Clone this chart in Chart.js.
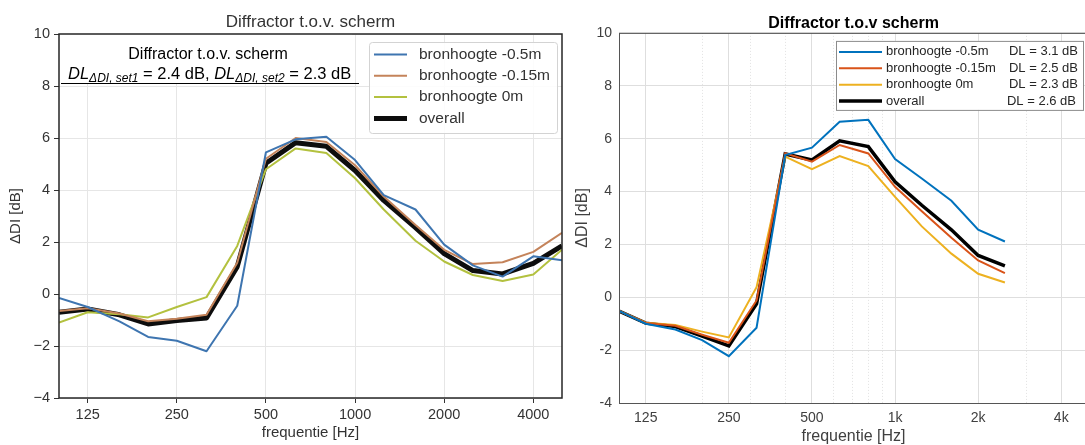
<!DOCTYPE html>
<html><head><meta charset="utf-8">
<script src="https://cdn.jsdelivr.net/npm/chart.js@4.4.1/dist/chart.umd.min.js"></script>
<style>
html,body{margin:0;padding:0;background:#fff;overflow:hidden;width:1085px;height:445px;position:relative;}
#cL{position:absolute;left:0;top:0;}
#cR{position:absolute;left:570px;top:0;}
</style></head><body>
<canvas id="cL" width="570" height="445"></canvas>
<canvas id="cR" width="525" height="452"></canvas>
<script>
// ---------- data: left chart ----------
const freqL = [100,125,160,200,250,315,400,500,630,800,1000,1250,1600,2000,2500,3150,4000,5000];
const blueL   = [-0.15,-0.5,-1.05,-1.65,-1.8,-2.2,-0.45,5.45,5.95,6.05,5.15,3.8,3.25,1.9,1.1,0.67,1.45,1.3];
const orangeL = [-0.65,-0.55,-0.75,-1.05,-0.95,-0.8,1.2,5.2,6.0,5.85,4.95,3.75,2.65,1.7,1.15,1.22,1.62,2.35];
const greenL  = [-1.1,-0.7,-0.78,-0.9,-0.5,-0.12,1.85,4.8,5.6,5.42,4.45,3.25,2.05,1.25,0.73,0.5,0.75,1.7];
const blackL  = [-0.7,-0.58,-0.8,-1.15,-1.02,-0.92,1.05,5.03,5.82,5.68,4.75,3.6,2.55,1.55,0.9,0.77,1.18,1.85];
const seriesNamesL = ['bronhoogte -0.5m','bronhoogte -0.15m','bronhoogte 0m','overall'];
const xTickValsL = [125,250,500,1000,2000,4000];
const xTickLabsL = ['125','250','500','1000','2000','4000'];
const yTickValsL = [-4,-2,0,2,4,6,8,10];
const yTickLabsL = ['\u22124','\u22122','0','2','4','6','8','10'];
const dlSet = ['2.4','2.3'];

// ---------- data: right chart ----------
const freqR = [100,125,160,200,250,315,400,500,630,800,1000,1250,1600,2000,2500];
const blueR   = [-0.52,-1.0,-1.22,-1.62,-2.23,-1.15,5.38,5.66,6.64,6.71,5.23,4.49,3.65,2.56,2.11];
const orangeR = [-0.52,-0.97,-1.08,-1.42,-1.72,-0.12,5.45,5.13,5.76,5.44,4.18,3.25,2.25,1.39,0.91];
const yellowR = [-0.52,-0.96,-1.05,-1.3,-1.52,0.38,5.32,4.85,5.34,4.96,3.8,2.68,1.65,0.89,0.56];
const blackR  = [-0.52,-0.98,-1.11,-1.47,-1.84,-0.25,5.42,5.19,5.92,5.7,4.37,3.48,2.55,1.58,1.19];
const seriesNamesR = ['bronhoogte -0.5m','bronhoogte -0.15m','bronhoogte 0m','overall'];
const dlR = ['3.1','2.5','2.3','2.6'];
const xGridR = [125,200,250,300,400,500,600,700,800,900,1000,2000,3000,4000];
const xMajorR = [125,250,500,1000,2000,4000];
const xMajorLabsR = ['125','250','500','1k','2k','4k'];
const yTickValsR = [-4,-2,0,2,4,6,8,10];
const yTickLabsR = ['-4','-2','0','2','4','6','8','10'];

const FONT = '"Liberation Sans", Arial, sans-serif';
const pts = (xs, ys) => xs.map((x, i) => ({x, y: ys[i]}));

// ---------- left chart ----------
const leftPlugin = {
  id: 'leftDeco',
  afterDatasetsDraw(chart) {
    const {ctx, chartArea: a} = chart;
    ctx.save();
    // annotation box
    ctx.fillStyle = '#fff';
    ctx.fillRect(a.left, a.top, 352 - a.left, 83.5 - a.top);
    ctx.fillStyle = '#000';
    ctx.textBaseline = 'alphabetic';
    ctx.textAlign = 'center';
    ctx.font = '16px ' + FONT;
    ctx.fillText('Diffractor t.o.v. scherm', 208, 58.5);
    ctx.textAlign = 'left';
    let x = 68; const base = 78.5;
    const seg = (t, font, dy) => { ctx.font = font; ctx.fillText(t, x, base + dy); x += ctx.measureText(t).width; };
    const it = 'italic 16.5px ' + FONT, sub = 'italic 12px ' + FONT, nr = '16.5px ' + FONT;
    seg('DL', it, 0); seg('\u0394DI, set1', sub, 3.5); seg(' = ' + dlSet[0] + ' dB, ', nr, 0);
    seg('DL', it, 0); seg('\u0394DI, set2', sub, 3.5); seg(' = ' + dlSet[1] + ' dB', nr, 0);
    ctx.strokeStyle = '#000'; ctx.lineWidth = 1;
    ctx.beginPath(); ctx.moveTo(61, 83.5); ctx.lineTo(359, 83.5); ctx.stroke();
    // legend
    const bx = a.left + 310, by = a.top + 8, bw = 188, bh = 91;
    ctx.beginPath();
    ctx.roundRect(bx + 0.5, by + 0.5, bw, bh, 3);
    ctx.fillStyle = 'rgba(255,255,255,0.85)'; ctx.fill();
    ctx.strokeStyle = '#d3d3d3'; ctx.lineWidth = 1; ctx.stroke();
    ctx.font = '15.5px ' + FONT; ctx.textBaseline = 'middle';
    chart.data.datasets.forEach((ds, i) => {
      const y = by + 12.5 + i * 21.3;
      ctx.strokeStyle = ds.borderColor; ctx.lineWidth = ds.borderWidth;
      ctx.beginPath(); ctx.moveTo(bx + 5, y); ctx.lineTo(bx + 38, y); ctx.stroke();
      ctx.fillStyle = '#333'; ctx.fillText(ds.label, bx + 50, y);
    });
    // frame
    ctx.strokeStyle = '#262626'; ctx.lineWidth = 1.5;
    ctx.strokeRect(a.left, a.top, a.right - a.left, a.bottom - a.top);
    ctx.restore();
  }
};

new Chart(document.getElementById('cL'), {
  type: 'line',
  data: {
    datasets: [
      {label: seriesNamesL[0], data: pts(freqL, blueL), borderColor: '#3e75b0', borderWidth: 2},
      {label: seriesNamesL[1], data: pts(freqL, orangeL), borderColor: '#c4835a', borderWidth: 2},
      {label: seriesNamesL[2], data: pts(freqL, greenL), borderColor: '#b3c13f', borderWidth: 2},
      {label: seriesNamesL[3], data: pts(freqL, blackL), borderColor: '#0d0d0d', borderWidth: 5}
    ]
  },
  options: {
    responsive: false, animation: false,
    layout: {padding: {left: 0, right: 8, top: 0, bottom: 0}},
    elements: {point: {radius: 0}, line: {tension: 0, borderJoinStyle: 'round'}},
    plugins: {
      legend: {display: false}, tooltip: {enabled: false},
      title: {display: true, text: 'Diffractor t.o.v. scherm', color: '#333', fullSize: false,
        font: {family: FONT, size: 17, weight: 'normal'}, padding: {top: 12, bottom: 1.6}}
    },
    scales: {
      x: {
        type: 'logarithmic', min: 100, max: 5000,
        afterBuildTicks: s => { s.ticks = xTickValsL.map(v => ({value: v})); },
        afterFit: s => { s.height = 47; },
        ticks: {autoSkip: false, maxRotation: 0, minRotation: 0, padding: 3.3, color: '#333',
          font: {family: FONT, size: 14.5},
          callback: v => xTickLabsL[xTickValsL.indexOf(v)] ?? ''},
        grid: {color: '#e6e6e6', lineWidth: 1, drawTicks: true, tickLength: 5, tickColor: '#333'},
        border: {display: false},
        title: {display: true, text: 'frequentie [Hz]', color: '#333',
          font: {family: FONT, size: 15}, padding: {top: 0, bottom: 3}}
      },
      y: {
        type: 'linear', min: -4, max: 10,
        afterBuildTicks: s => { s.ticks = yTickValsL.map(v => ({value: v})); },
        afterFit: s => { s.width = 59; },
        ticks: {padding: 4, color: '#333', font: {family: FONT, size: 14.5},
          callback: v => yTickLabsL[yTickValsL.indexOf(v)] ?? ''},
        grid: {color: '#e6e6e6', lineWidth: 1, drawTicks: true, tickLength: 5, tickColor: '#333'},
        border: {display: false},
        title: {display: true, text: '\u0394DI [dB]', color: '#333',
          font: {family: FONT, size: 15}, padding: {top: 7, bottom: 0}}
      }
    }
  },
  plugins: [leftPlugin]
});

// ---------- right chart ----------
const rightPlugin = {
  id: 'rightDeco',
  afterDatasetsDraw(chart) {
    const {ctx, chartArea: a} = chart;
    ctx.save();
    // frame
    ctx.strokeStyle = '#555'; ctx.lineWidth = 1;
    ctx.strokeRect(a.left + 0.5, a.top + 0.5, a.right - a.left, a.bottom - a.top);
    // legend
    const bx = a.left + 217, by = a.top + 8, bw = 247, bh = 69;
    ctx.fillStyle = '#fff'; ctx.fillRect(bx, by, bw, bh);
    ctx.strokeStyle = '#8c8c8c'; ctx.lineWidth = 1;
    ctx.strokeRect(bx + 0.5, by + 0.5, bw, bh);
    ctx.font = '13px ' + FONT; ctx.textBaseline = 'middle';
    chart.data.datasets.forEach((ds, i) => {
      const y = by + 11 + i * 16.4;
      ctx.strokeStyle = ds.borderColor; ctx.lineWidth = ds.borderWidth;
      ctx.beginPath(); ctx.moveTo(bx + 3, y); ctx.lineTo(bx + 46, y); ctx.stroke();
      ctx.fillStyle = '#262626';
      ctx.textAlign = 'left'; ctx.fillText(ds.label, bx + 50, y);
      ctx.textAlign = 'right'; ctx.fillText('DL = ' + dlR[i] + ' dB', bx + (i === 3 ? 240 : 242), y);
    });
    ctx.restore();
  }
};

new Chart(document.getElementById('cR'), {
  type: 'line',
  data: {
    datasets: [
      {label: seriesNamesR[0], data: pts(freqR, blueR), borderColor: '#0072BD', borderWidth: 2},
      {label: seriesNamesR[1], data: pts(freqR, orangeR), borderColor: '#D95319', borderWidth: 2},
      {label: seriesNamesR[2], data: pts(freqR, yellowR), borderColor: '#EDB120', borderWidth: 2},
      {label: seriesNamesR[3], data: pts(freqR, blackR), borderColor: '#000000', borderWidth: 3.5}
    ]
  },
  options: {
    responsive: false, animation: false,
    layout: {padding: {left: 0, right: 7, top: 0, bottom: 0}},
    elements: {point: {radius: 0}, line: {tension: 0}},
    plugins: {
      legend: {display: false}, tooltip: {enabled: false},
      title: {display: true, text: 'Diffractor t.o.v scherm', color: '#000', fullSize: false,
        font: {family: FONT, size: 16, weight: 'bold'}, padding: {top: 13.7, bottom: 0}}
    },
    scales: {
      x: {
        type: 'logarithmic', min: 100, max: 5000,
        afterBuildTicks: s => { s.ticks = xGridR.map(v => ({value: v})); },
        afterFit: s => { s.height = 49; },
        ticks: {autoSkip: false, maxRotation: 0, minRotation: 0, padding: 6.6, color: '#404040',
          font: {family: FONT, size: 14},
          callback: v => { const k = xMajorR.indexOf(v); return k >= 0 ? xMajorLabsR[k] : ''; }},
        grid: {drawTicks: false, lineWidth: 1,
          color: c => (c.tick && xMajorR.includes(c.tick.value)) ? '#dedede' : '#e2e2e2'},
        border: {display: false,
          dash: c => (c.tick && !xMajorR.includes(c.tick.value)) ? [1, 2] : []},
        title: {display: true, text: 'frequentie [Hz]', color: '#404040',
          font: {family: FONT, size: 16}, padding: {top: 0, bottom: 5.4}}
      },
      y: {
        type: 'linear', min: -4, max: 10,
        afterBuildTicks: s => { s.ticks = yTickValsR.map(v => ({value: v})); },
        afterFit: s => { s.width = 49; },
        ticks: {padding: 7, color: '#404040', font: {family: FONT, size: 14},
          callback: v => yTickLabsR[yTickValsR.indexOf(v)] ?? ''},
        grid: {color: '#dedede', lineWidth: 1, drawTicks: false},
        border: {display: false},
        title: {display: true, text: '\u0394DI [dB]', color: '#404040',
          font: {family: FONT, size: 16}, padding: {top: 3.4, bottom: 0}}
      }
    }
  },
  plugins: [rightPlugin]
});
</script>
</body></html>
